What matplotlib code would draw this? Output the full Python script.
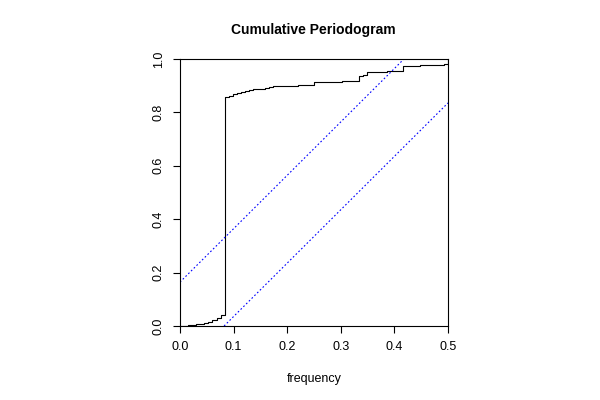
import matplotlib
matplotlib.use("Agg")
import matplotlib.pyplot as plt
import numpy as np

plt.rcParams['font.family'] = ['Liberation Sans', 'DejaVu Sans']

n_obs = 132
k = np.arange(0, 67)
cum = [0.0,
       0.001, 0.002, 0.004, 0.006, 0.008, 0.011, 0.015, 0.022, 0.030, 0.040,
       0.858, 0.863, 0.869, 0.873, 0.877, 0.880, 0.883, 0.886, 0.888, 0.889,
       0.890, 0.897, 0.898, 0.898, 0.899, 0.899, 0.900, 0.900, 0.901, 0.901,
       0.902, 0.903, 0.912, 0.913, 0.913, 0.914, 0.914, 0.915, 0.915, 0.916,
       0.916, 0.917, 0.917, 0.938, 0.940, 0.951, 0.952, 0.952, 0.953, 0.953,
       0.954, 0.954, 0.955, 0.955, 0.973, 0.974, 0.975, 0.975, 0.976, 0.977,
       0.977, 0.978, 0.979, 0.979, 0.980, 1.000]
freq = k / n_obs
xm = 0.5
mp = len(freq) - 1
crit = 1.358 / (np.sqrt(mp) + 0.12 + 0.11 / np.sqrt(mp))

fig = plt.figure(figsize=(6, 4), dpi=100)
ax = fig.add_axes([0.30, 0.185, 0.4467, 0.6675])
ax.plot(freq, cum, drawstyle='steps-post', color='black', lw=0.8)
ax.plot([0, xm * (1 - crit)], [crit, 1], color='blue', ls=(0, (1.5, 2)), lw=0.8)
ax.plot([xm * crit, xm], [0, 1 - crit], color='blue', ls=(0, (1.5, 2)), lw=0.8)
ax.set_xlim(0, xm)
ax.set_ylim(0, 1)
ax.set_xticks([0, 0.1, 0.2, 0.3, 0.4, 0.5])
ax.set_xticklabels(['0.0', '0.1', '0.2', '0.3', '0.4', '0.5'])
ax.set_yticks([0, 0.2, 0.4, 0.6, 0.8, 1.0])
ax.set_yticklabels(['0.0', '0.2', '0.4', '0.6', '0.8', '1.0'], rotation=90, va='center')
ax.tick_params(labelsize=9, length=5, width=0.8, pad=6)
for s in ax.spines.values():
    s.set_linewidth(0.8)
ax.set_xlabel('frequency', fontsize=9, labelpad=14)
fig.text(0.523, 0.925, 'Cumulative Periodogram', ha='center', va='center',
         fontsize=10, fontweight='bold')
fig.savefig('out.png', dpi=100)
